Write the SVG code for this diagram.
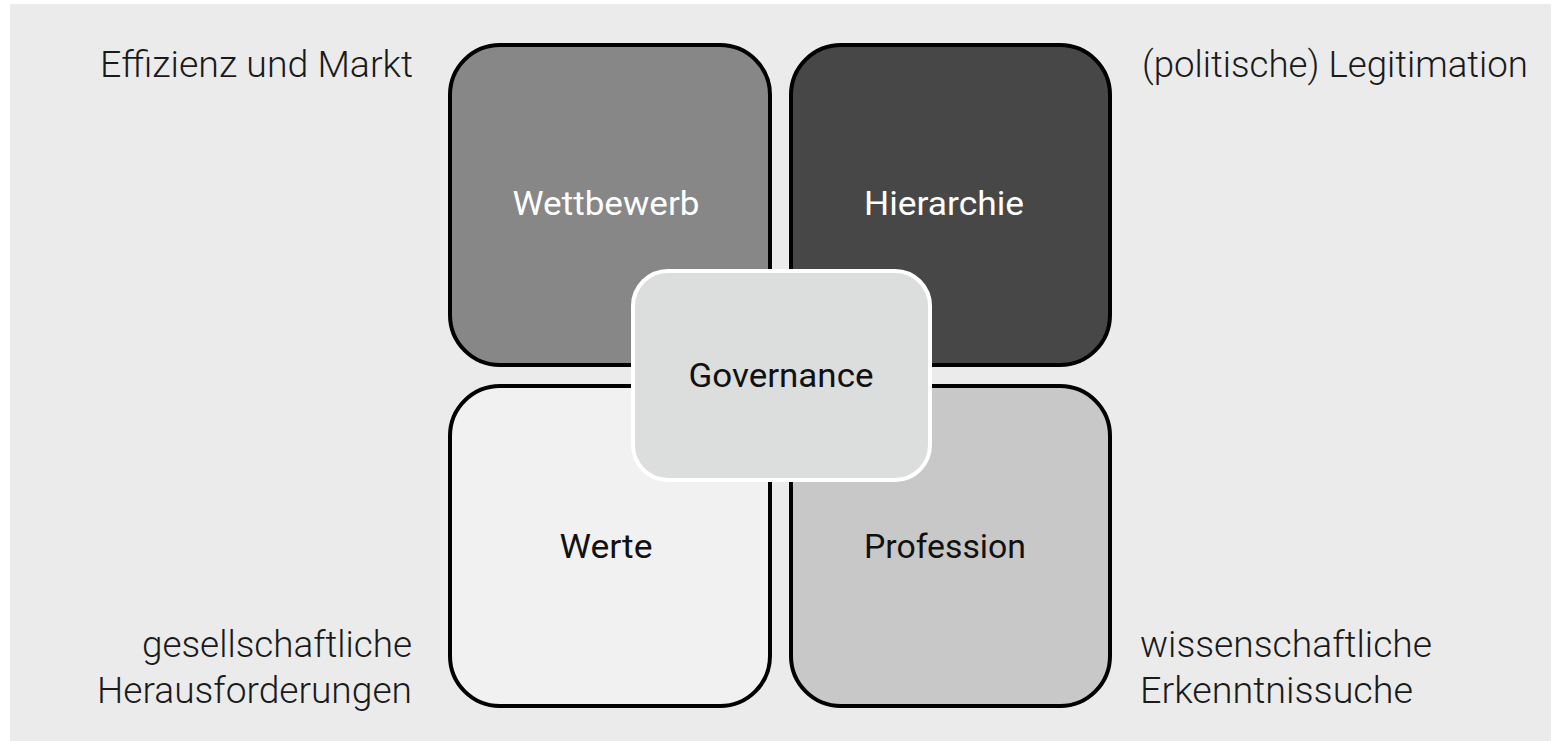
<svg xmlns="http://www.w3.org/2000/svg" width="1555" height="741" viewBox="0 0 1555 741">
<style>
.lbl{font-family:Roboto,"Liberation Sans",sans-serif;font-weight:300;font-size:36px;fill:#1a1a1a}
.in{font-family:Roboto,"Liberation Sans",sans-serif;font-weight:400;font-size:34px;text-anchor:middle}
.box{stroke:#000;stroke-width:4}
</style>
<rect x="0" y="0" width="1555" height="741" fill="#ffffff"/>
<rect x="10" y="4" width="1541" height="737" fill="#ebebeb"/>
<g id="outer-labels">
<text class="lbl" x="100" y="77" textLength="313" lengthAdjust="spacingAndGlyphs">Effizienz und Markt</text>
<text class="lbl" x="1142" y="77" textLength="386" lengthAdjust="spacingAndGlyphs">(politische) Legitimation</text>
<text class="lbl" x="142" y="657" textLength="270" lengthAdjust="spacingAndGlyphs">gesellschaftliche</text>
<text class="lbl" x="97" y="703" textLength="315" lengthAdjust="spacingAndGlyphs">Herausforderungen</text>
<text class="lbl" x="1140" y="657" textLength="292" lengthAdjust="spacingAndGlyphs">wissenschaftliche</text>
<text class="lbl" x="1140" y="703" textLength="273" lengthAdjust="spacingAndGlyphs">Erkenntnissuche</text>
</g>
<g id="wettbewerb">
<rect class="box" x="450" y="45" width="320" height="320" rx="50" fill="#878787"/>
<text class="in" x="606" y="215" fill="#ffffff" textLength="187" lengthAdjust="spacingAndGlyphs">Wettbewerb</text>
</g>
<g id="hierarchie">
<rect class="box" x="791" y="45" width="319" height="320" rx="50" fill="#474747"/>
<text class="in" x="944" y="215" fill="#ffffff" textLength="160" lengthAdjust="spacingAndGlyphs">Hierarchie</text>
</g>
<g id="werte">
<rect class="box" x="450" y="386" width="320" height="320" rx="50" fill="#f1f1f1"/>
<text class="in" x="606" y="558" fill="#111" textLength="93" lengthAdjust="spacingAndGlyphs">Werte</text>
</g>
<g id="profession">
<rect class="box" x="791" y="386" width="319" height="320" rx="50" fill="#c8c8c8"/>
<text class="in" x="945" y="558" fill="#111" textLength="162" lengthAdjust="spacingAndGlyphs">Profession</text>
</g>
<g id="governance">
<rect x="633" y="271" width="297" height="209" rx="35" fill="#dcdddd" stroke="#ffffff" stroke-width="4"/>
<text class="in" x="781" y="387" fill="#111" textLength="185" lengthAdjust="spacingAndGlyphs">Governance</text>
</g>
<g id="connectors"></g>
</svg>
